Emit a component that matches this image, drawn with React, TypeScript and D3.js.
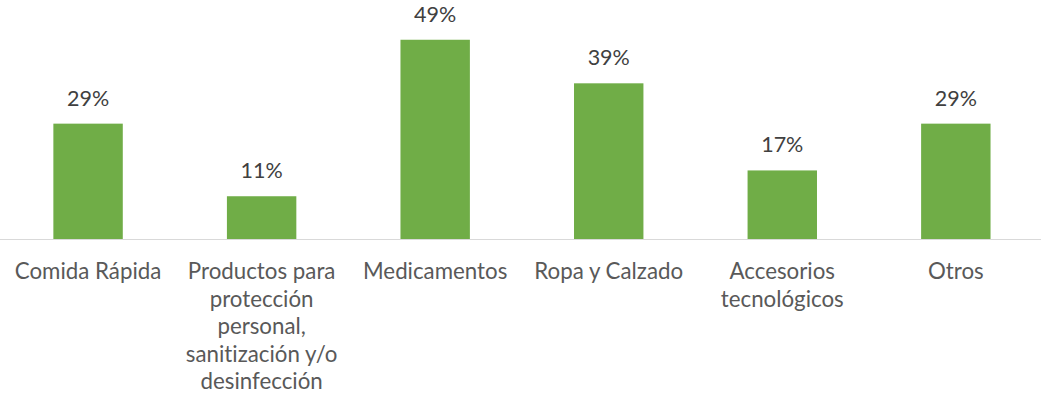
import React from "react";
import * as d3 from "d3";

const categories = [
  "Comida Rápida",
  "Productos para\nprotección\npersonal,\nsanitización y/o\ndesinfección",
  "Medicamentos",
  "Ropa y Calzado",
  "Accesorios\ntecnológicos",
  "Otros",
];
const values = [0.286, 0.106, 0.494, 0.386, 0.17, 0.286];

const W = 1041;
const H = 402;
const baseline = 239;
const FONT = "Lato, 'Noto Sans', sans-serif";

export default function App() {
  const x = d3.scaleBand<string>().domain(categories).range([1.3, 1042.6]).paddingInner(0.6).paddingOuter(0.3);
  const y = d3.scaleLinear().domain([0, 0.6]).range([baseline, baseline - 242]);
  const fmt = d3.format(".0%");
  return (
    <svg width={W} height={H} style={{ position: "absolute", left: 0, top: 0, background: "#fff", fontVariantLigatures: "none" }}>
      <line x1={0} x2={W} y1={baseline + 0.5} y2={baseline + 0.5} stroke="#D9D9D9" strokeWidth={1.2} />
      {categories.map((c, i) => {
        const bx = x(c)!;
        const by = y(values[i]);
        const cx = bx + x.bandwidth() / 2;
        return (
          <g key={c}>
            <rect x={bx} y={by} width={x.bandwidth()} height={baseline - by} fill="#70AD47" />
            <text x={cx} y={by - 18} textAnchor="middle" fontFamily={FONT} fontSize={21.5} fill="#404040">
              {fmt(values[i])}
            </text>
            <text textAnchor="middle" fontFamily={FONT} fontSize={22.3} fill="#595959">
              {c.split("\n").map((l, j) => (
                <tspan key={j} x={cx} y={279 + j * 27.5}>{l}</tspan>
              ))}
            </text>
          </g>
        );
      })}
    </svg>
  );
}
